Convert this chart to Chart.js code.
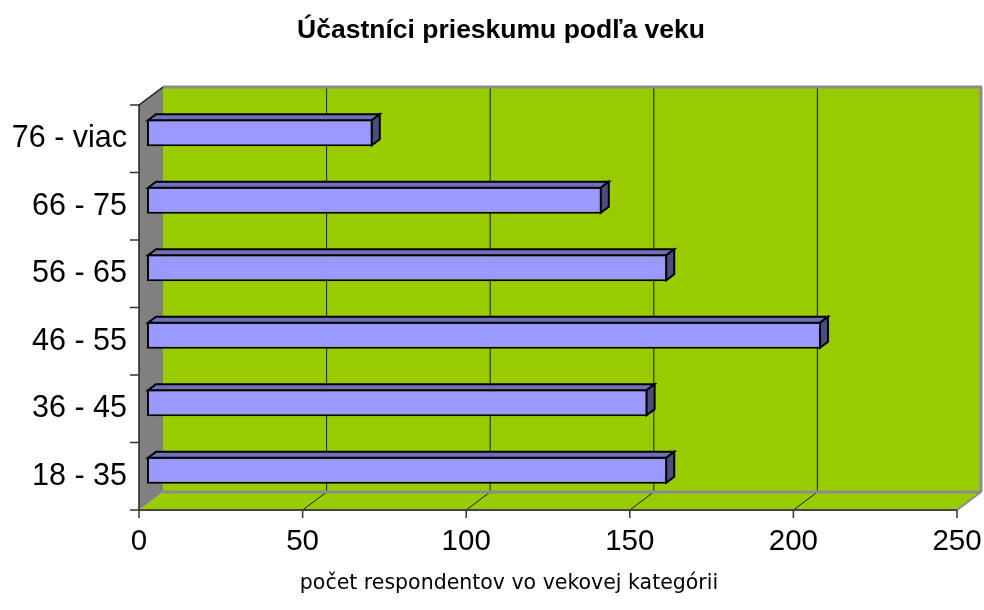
<!DOCTYPE html>
<html>
<head>
<meta charset="utf-8">
<script src="https://cdn.jsdelivr.net/npm/chart.js@4/dist/chart.umd.min.js"></script>
<style>
  html, body { margin: 0; padding: 0; background: #fff; }
  #wrap { width: 984px; height: 610px; }
</style>
</head>
<body>
<div id="wrap"><canvas id="ageChart"></canvas></div>
<script>
// data (bottom to top)
const categories = ['18 - 35', '36 - 45', '46 - 55', '56 - 65', '66 - 75', '76 - viac'];
const counts = [159, 153, 206, 159, 139, 69];
const xTicks = [0, 50, 100, 150, 200, 250];

const TITLE = 'Účastníci prieskumu podľa veku';
const X_TITLE = 'počet respondentov vo vekovej kategórii';

const BAR_COLOR = '#9999FF';
const TOP_COLOR = '#7070B8';
const SIDE_COLOR = '#4C4C80';
const WALL_COLOR = '#99CC00';
const SIDE_WALL = '#808080';

// depth step: bars sit one step behind the front plane, back wall two steps behind the bars
const DX = 8, DY = 6;

function line(ctx, x1, y1, x2, y2, color, w){
  ctx.beginPath();
  ctx.moveTo(x1, y1);
  ctx.lineTo(x2, y2);
  ctx.strokeStyle = color;
  ctx.lineWidth = w;
  ctx.stroke();
}

function poly(ctx, pts, fill, stroke, w){
  ctx.beginPath();
  ctx.moveTo(pts[0][0], pts[0][1]);
  for (let i = 1; i < pts.length; i++) ctx.lineTo(pts[i][0], pts[i][1]);
  ctx.closePath();
  if (fill){ ctx.fillStyle = fill; ctx.fill(); }
  if (stroke){ ctx.strokeStyle = stroke; ctx.lineWidth = w; ctx.lineJoin = 'miter'; ctx.stroke(); }
}

const box3d = {
  id: 'box3d',
  afterLayout(chart){
    // the titles in the original are centred on the page, not on the plot
    chart.boxes.forEach(b => {
      if (!b.options || typeof b.options.text !== 'string') return;
      if (b.options.text === TITLE){ b.left = 0; b.right = 1002; }
      if (b.options.text === X_TITLE){ b.left = 0; b.right = 1018; }
    });
  },
  beforeDatasetsDraw(chart){
    const ctx = chart.ctx;
    const { top, bottom } = chart.chartArea;
    const xs = chart.scales.x, ys = chart.scales.y;
    const min = xTicks[0], max = xTicks[xTicks.length - 1];
    const fx = v => xs.getPixelForValue(v) - DX;
    const bx = v => xs.getPixelForValue(v) + 2 * DX;
    const fTop = top + DY, fBot = bottom + DY;
    const bTop = top - 2 * DY, bBot = bottom - 2 * DY;

    ctx.save();
    // back wall
    ctx.fillStyle = WALL_COLOR;
    ctx.fillRect(bx(min), bTop, bx(max) - bx(min), bBot - bTop);
    // floor
    poly(ctx, [[fx(min), fBot], [bx(min), bBot], [bx(max), bBot], [fx(max), fBot]], WALL_COLOR);
    // left wall
    poly(ctx, [[fx(min), fTop], [bx(min), bTop], [bx(min), bBot], [fx(min), fBot]], SIDE_WALL);

    // grid lines on the back wall and the floor
    xTicks.slice(1, -1).forEach(v => {
      line(ctx, bx(v), bTop, bx(v), bBot, '#1a1a1a', 1);
      line(ctx, bx(v), bBot, fx(v), fBot, '#1a1a1a', 1);
    });

    // wall edges
    line(ctx, bx(min), bTop, bx(max) + 1, bTop, '#8c8c8c', 3);
    line(ctx, bx(max), bTop, bx(max), bBot, '#8c8c8c', 3);
    line(ctx, bx(min), bBot, bx(max), bBot, '#8c8c8c', 3);
    line(ctx, bx(max), bBot, fx(max), fBot, '#8c8c8c', 2);
    line(ctx, fx(min), fTop, bx(min), bTop, '#1a1a1a', 1.5);

    // axes on the front plane
    line(ctx, fx(min), fTop, fx(min), fBot + 1, '#222', 1.5);
    line(ctx, fx(min), fBot, fx(max), fBot, '#444', 2);
    xTicks.forEach(v => line(ctx, fx(v), fBot, fx(v), fBot + 8, '#333', 1.5));
    for (let i = 0; i <= categories.length; i++){
      const y = ys.getPixelForValue(i - 0.5) + DY;
      line(ctx, fx(min) - 9, y, fx(min), y, '#333', 1.5);
    }
    ctx.restore();
  },
  afterDatasetsDraw(chart){
    const ctx = chart.ctx;
    const meta = chart.getDatasetMeta(0);
    ctx.save();
    meta.data.forEach(bar => {
      const h = bar.height;
      const y1 = bar.y - h / 2 + 1, y2 = bar.y + h / 2 - 1;
      const x0 = bar.base + 1, x1 = bar.x - 1;
      poly(ctx, [[x0, y1], [x0 + DX, y1 - DY], [x1 + DX, y1 - DY], [x1, y1]], TOP_COLOR, '#000', 2);
      poly(ctx, [[x1, y1], [x1 + DX, y1 - DY], [x1 + DX, y2 - DY], [x1, y2]], SIDE_COLOR, '#000', 2);
    });
    ctx.restore();
  }
};

const ctx = document.getElementById('ageChart').getContext('2d');
new Chart(ctx, {
  type: 'bar',
  data: {
    labels: categories,
    datasets: [{
      data: counts,
      backgroundColor: BAR_COLOR,
      borderColor: '#000',
      borderWidth: 2,
      borderSkipped: false,
      categoryPercentage: 1,
      barPercentage: 0.4,
      clip: false
    }]
  },
  options: {
    indexAxis: 'y',
    responsive: true,
    maintainAspectRatio: false,
    animation: false,
    layout: { padding: { left: 0, right: 19, top: 0, bottom: 0 } },
    plugins: {
      legend: { display: false },
      tooltip: { enabled: false },
      title: {
        display: true,
        text: TITLE,
        color: '#000',
        font: { family: '"Liberation Sans", Arial, sans-serif', size: 26.5, weight: 'bold' },
        padding: { top: 15, bottom: 52.2 }
      },
      subtitle: {
        display: true,
        position: 'bottom',
        text: X_TITLE,
        color: '#000',
        font: { family: '"DejaVu Sans", Verdana, sans-serif', size: 20.5 },
        padding: { top: 0, bottom: 13.7 }
      }
    },
    scales: {
      x: {
        type: 'linear',
        min: 0,
        max: 250,
        grid: { display: false, drawTicks: false },
        border: { display: false },
        ticks: {
          stepSize: 50,
          padding: 20,
          labelOffset: -DX,
          color: '#000',
          font: { family: '"Liberation Sans", Arial, sans-serif', size: 29.5 }
        },
        afterFit(scale){
          scale.height = 67.7;
          scale.paddingLeft = 0;
          scale.paddingRight = 0;
        }
      },
      y: {
        reverse: true,
        grid: { display: false, drawTicks: false },
        border: { display: false },
        ticks: {
          padding: 20,
          labelOffset: DY,
          color: '#000',
          font: { family: '"Liberation Sans", Arial, sans-serif', size: 30.5 }
        },
        afterFit(scale){
          scale.width = 147;
          scale.paddingTop = 0;
          scale.paddingBottom = 0;
        }
      }
    }
  },
  plugins: [box3d]
});
</script>
</body>
</html>
